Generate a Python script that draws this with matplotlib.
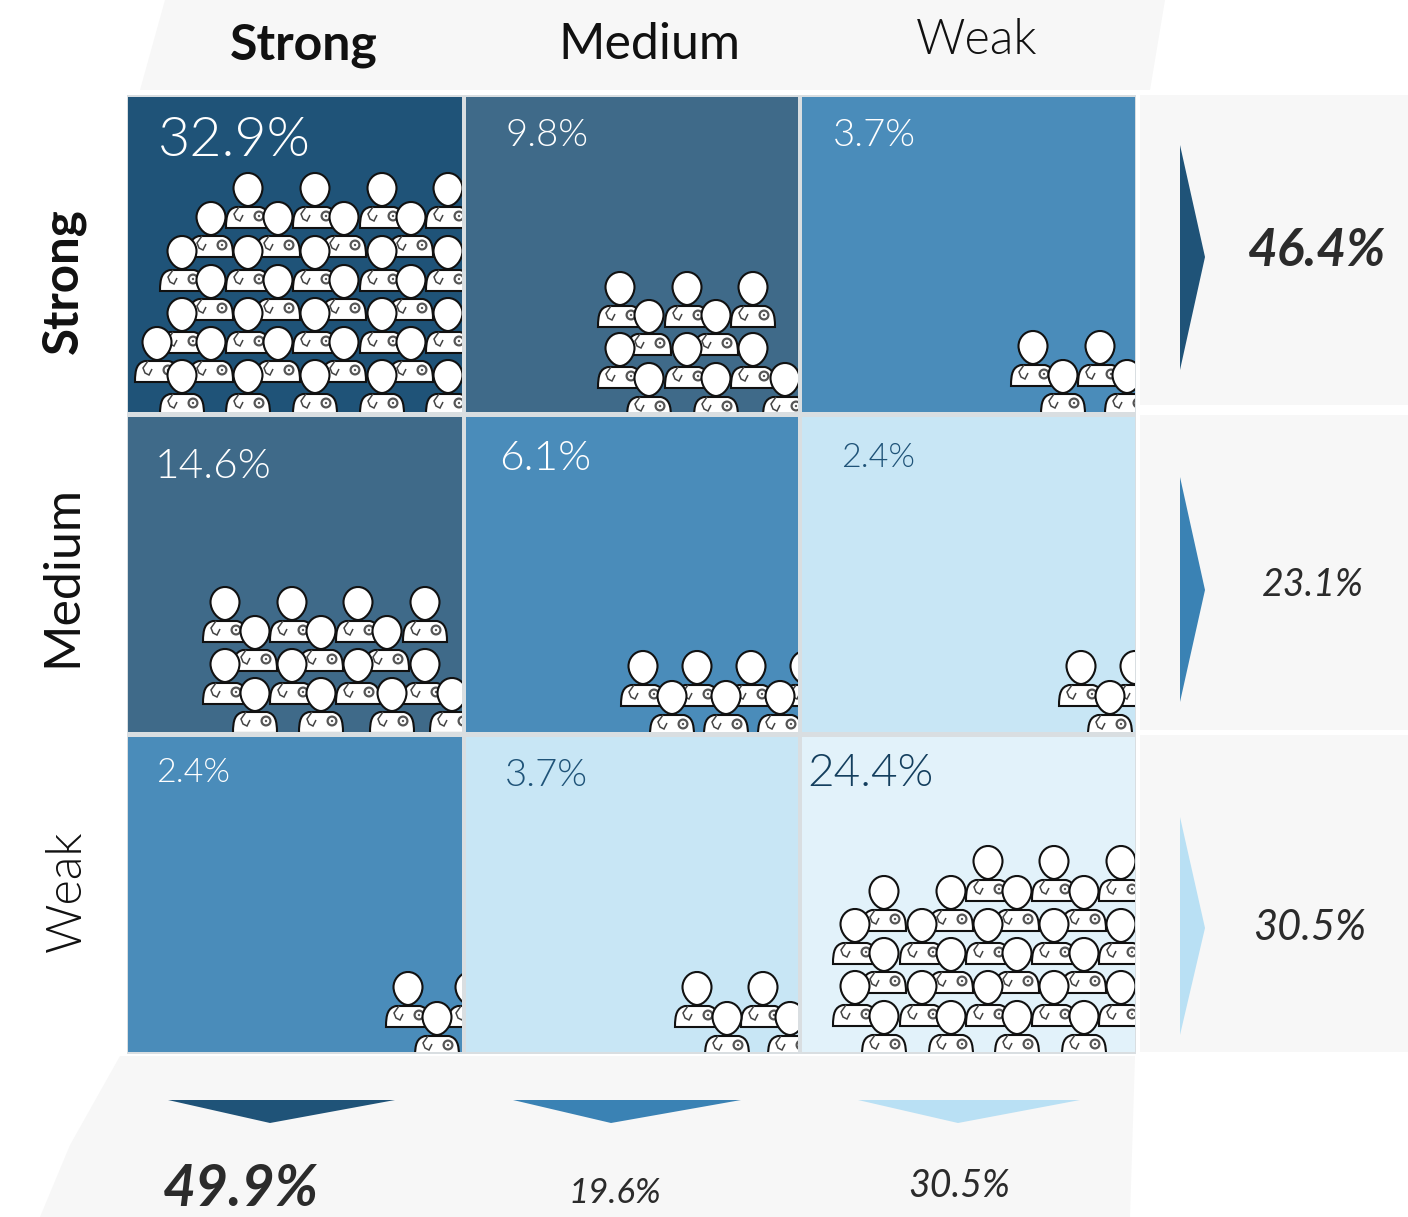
import matplotlib
matplotlib.use("Agg")
import matplotlib.pyplot as plt
from matplotlib import font_manager
from matplotlib.patches import Polygon, Rectangle, PathPatch, Circle
from matplotlib.path import Path

plt.rcParams["font.family"] = ["Lato", "DejaVu Sans"]

# data
levels = ["Strong", "Medium", "Weak"]
cell_values = [["32.9%", "9.8%", "3.7%"],
               ["14.6%", "6.1%", "2.4%"],
               ["2.4%", "3.7%", "24.4%"]]
row_totals = ["46.4%", "23.1%", "30.5%"]
col_totals = ["49.9%", "19.6%", "30.5%"]

# colours
DARK = "#1f5378"
SLATE = "#3f6a89"
MID = "#4a8cba"
PALE = "#c8e6f5"
PALEST = "#e2f2fa"
cell_colors = [[DARK, SLATE, MID],
               [SLATE, MID, PALE],
               [MID, PALE, PALEST]]
cell_text_colors = [["white", "white", "white"],
                    ["white", "white", "#1f5378"],
                    ["white", "#1f5378", "#143f5e"]]
total_colors = [DARK, "#3a82b4", "#b9e0f4"]

# layout, in reference pixels
col_edges = [(128, 462), (466, 798), (802, 1135)]
row_edges = [(97, 412), (417, 732), (737, 1052)]
cell_text_pos = [[(158, 141, 40), (505, 136, 27.5), (833, 136, 27.5)],
                 [(155, 467, 30.5), (499, 459, 30.5), (841, 458, 24.5)],
                 [(156, 773, 24.5), (505, 776, 27.5), (807, 773, 33)]]
col_head_pos = [(304, 45, 36), (649, 45, 36), (977, 40, 35)]
row_head_pos = [(63, 281, 35.5), (62, 580, 36), (67, 893, 35)]
row_total_pos = [(1317, 252, 37), (1313, 585, 27), (1310, 928, 30)]
col_total_pos = [(241, 1190, 41), (615, 1193, 25), (959, 1186, 27)]
right_arrows = [(1180, 145, 370, 257), (1180, 477, 702, 590), (1180, 817, 1035, 928)]
bottom_arrows = [(168, 395, 1100, 1123, 270), (513, 741, 1100, 1123, 611), (858, 1080, 1100, 1123, 958)]

# doctor rows per cell: (head y, [head x ...])
doctors = {
    (0, 0): [(190, [248, 315, 382, 448]),
             (219, [211, 278, 344, 411]),
             (253, [182, 248, 315, 382, 448]),
             (282, [211, 278, 344, 411]),
             (315, [182, 248, 315, 382, 448]),
             (344, [157, 211, 278, 344, 411]),
             (377, [182, 248, 315, 382, 448])],
    (0, 1): [(289, [620, 687, 753]),
             (317, [649, 716]),
             (350, [620, 687, 753]),
             (380, [649, 716, 785])],
    (0, 2): [(348, [1033, 1100]),
             (377, [1063, 1127])],
    (1, 0): [(604, [225, 292, 358, 425]),
             (633, [255, 321, 387]),
             (666, [225, 292, 358, 425]),
             (695, [255, 321, 392, 452])],
    (1, 1): [(668, [643, 697, 751, 805]),
             (698, [672, 726, 780])],
    (1, 2): [(668, [1081, 1135]),
             (698, [1110])],
    (2, 0): [(989, [408, 470]),
             (1019, [437])],
    (2, 1): [(989, [697, 763]),
             (1019, [727, 790])],
    (2, 2): [(863, [988, 1054, 1121]),
             (893, [884, 951, 1017, 1084]),
             (926, [855, 922, 988, 1054, 1121]),
             (955, [884, 951, 1017, 1084]),
             (988, [855, 922, 988, 1054, 1121]),
             (1018, [884, 951, 1017, 1084])],
}


def lato_light():
    # 'light' by weight name lands on Lato Hairline, so look for the file
    for f in font_manager.fontManager.ttflist:
        if f.fname.endswith("Lato-Light.ttf"):
            return font_manager.FontProperties(fname=f.fname)
    return font_manager.FontProperties(family="Lato")


def draw_doctor(ax, x, y, clip):
    top, base = y + 17, y + 38
    # dome shaped body on a flat base
    body = Path([(x - 22, base), (x - 22, top + 8), (x - 20, top + 2), (x - 12, top), (x + 12, top),
                 (x + 20, top + 2), (x + 22, top + 8), (x + 22, base), (x - 22, base)],
                [Path.MOVETO, Path.CURVE4, Path.CURVE4, Path.CURVE4, Path.LINETO,
                 Path.CURVE4, Path.CURVE4, Path.CURVE4, Path.CLOSEPOLY])
    items = [PathPatch(body, fc="white", ec="#111111", lw=1.5)]
    # stethoscope
    steth = Path([(x - 9, top), (x - 14, top + 7), (x - 12, top + 12), (x - 8, top + 14), (x - 5, top + 8)],
                 [Path.MOVETO, Path.LINETO, Path.LINETO, Path.LINETO, Path.LINETO])
    items.append(PathPatch(steth, fc="none", ec="#444444", lw=1.1))
    items.append(Circle((x + 11, top + 9), 4.4, fc="white", ec="#555555", lw=1.6))
    items.append(Circle((x + 11, top + 9), 1.2, fc="#555555", ec="none"))
    # egg shaped head, narrower at the chin
    head = Path([(x, y - 17), (x + 9, y - 17), (x + 14.5, y - 9), (x + 14.5, y - 2),
                 (x + 14.5, y + 7), (x + 7, y + 16), (x, y + 16),
                 (x - 7, y + 16), (x - 14.5, y + 7), (x - 14.5, y - 2),
                 (x - 14.5, y - 9), (x - 9, y - 17), (x, y - 17)],
                [Path.MOVETO] + [Path.CURVE4] * 12)
    items.append(PathPatch(head, fc="white", ec="#111111", lw=1.5))
    for item in items:
        ax.add_patch(item)
        item.set_clip_path(clip)


fig = plt.figure(figsize=(14.08, 12.17), dpi=100)
ax = fig.add_axes([0, 0, 1, 1])
ax.set_xlim(0, 1408)
ax.set_ylim(1217, 0)
ax.axis("off")

light = lato_light()

# faint grey panels behind the labels
panel = "#f7f7f7"
ax.add_patch(Polygon([(165, 0), (1165, 0), (1150, 90), (140, 90)], fc=panel, ec="none"))
for y0, y1 in [(95, 405), (415, 730), (735, 1052)]:
    ax.add_patch(Rectangle((1140, y0), 268, y1 - y0, fc=panel, ec="none"))
ax.add_patch(Polygon([(120, 1056), (1135, 1056), (1130, 1217), (40, 1217), (70, 1145)], fc=panel, ec="none"))
ax.add_patch(Rectangle((127, 95), 1009, 959, fc="#d9dee1", ec="none"))

for r, (y0, y1) in enumerate(row_edges):
    for c, (x0, x1) in enumerate(col_edges):
        rect = Rectangle((x0, y0), x1 - x0, y1 - y0, fc=cell_colors[r][c], ec="none")
        ax.add_patch(rect)
        for y, xs in doctors[(r, c)]:
            for x in xs:
                draw_doctor(ax, x, y, rect)
        tx, ty, size = cell_text_pos[r][c]
        ax.text(tx, ty, cell_values[r][c], color=cell_text_colors[r][c], fontproperties=light,
                fontsize=size, ha="left", va="center")

for i, name in enumerate(levels):
    if i == 2:
        kw = {"fontproperties": light}
    else:
        kw = {"fontweight": "bold" if i == 0 else "normal"}
    x, y, size = col_head_pos[i]
    ax.text(x, y, name, fontsize=size, ha="center", va="center", color="#111111", **kw)
    x, y, size = row_head_pos[i]
    y = y - 4 if i == 1 else y - 2 if i == 2 else y
    ax.text(x, y, name, fontsize=size, ha="center", va="center", color="#111111", rotation=90, **kw)

    x0, y0, y1, ym = right_arrows[i]
    ax.add_patch(Polygon([(x0, y0), (x0 + 25, ym), (x0, y1)], fc=total_colors[i], ec="none"))
    x0, x1, y0, y1, xm = bottom_arrows[i]
    ax.add_patch(Polygon([(x0, y0), (x1, y0), (xm, y1)], fc=total_colors[i], ec="none"))

    x, y, size = row_total_pos[i]
    ax.text(x, y, row_totals[i], fontsize=size, ha="center", va="center", color="#2b2b2b", style="italic",
            fontweight="bold" if i == 0 else "normal")
    x, y, size = col_total_pos[i]
    ax.text(x, y, col_totals[i], fontsize=size, ha="center", va="center", color="#2b2b2b", style="italic",
            fontweight="bold" if i == 0 else "normal")

fig.savefig("out.png", dpi=100)
